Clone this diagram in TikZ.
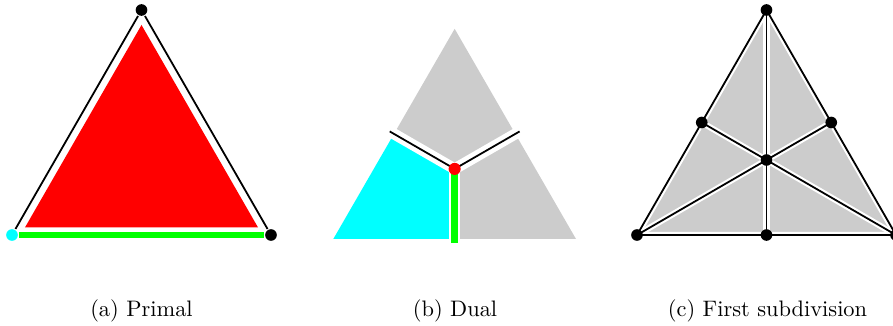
\documentclass[tikz,border=0pt]{standalone}
\usetikzlibrary{calc}
\definecolor{cellgray}{RGB}{204,204,204}
\definecolor{pgreen}{RGB}{0,255,0}
\definecolor{pcyan}{RGB}{0,255,255}
\definecolor{pred}{RGB}{255,0,0}
\begin{document}
\begin{tikzpicture}[x=0.4464pt,y=0.4464pt,
  dot/.style={circle,fill=black,inner sep=0pt,minimum size=5.2pt},
  casing/.style={white,line width=2.7pt},
  widecasing/.style={white,line width=4.9pt},
  edgeline/.style={black,line width=0.8pt},
  greenline/.style={pgreen,line width=2.9pt},
  short/.style={shorten <=3.1pt,shorten >=3.1pt},
  caption/.style={anchor=base,inner sep=0pt}]
\useasboundingbox (0,0) rectangle (893,326);

% ---------- (a) Primal ----------
\coordinate (A) at (12,91);
\coordinate (B) at (271,91);
\coordinate (C) at (141.5,316);
\coordinate (G) at (141.5,166);
\fill[pred] ($(G)!0.9!(A)$) -- ($(G)!0.9!(B)$) -- ($(G)!0.9!(C)$) -- cycle;
\draw[casing,short] (A) -- (C);
\draw[casing,short] (B) -- (C);
\draw[edgeline,short] (A) -- (C);
\draw[edgeline,short] (B) -- (C);
\draw[greenline,short] (A) -- (B);
\node[dot,fill=pcyan] (vA) at (A) {};
\node[dot] (vB) at (B) {};
\node[dot] (vC) at (C) {};
\node[caption] (capa) at (141.5,9) {(a) Primal};

% ---------- (b) Dual ----------
\coordinate (P) at (333.3,87);
\coordinate (Q) at (576,87);
\coordinate (R) at (454.65,297.2);
\coordinate (O) at (454.65,157.1);
\coordinate (mPR) at ($(P)!0.5!(R)$);
\coordinate (mQR) at ($(Q)!0.5!(R)$);
\coordinate (mPQ) at ($(P)!0.5!(Q)$);
\fill[pcyan] (P) -- (mPR) -- (O) -- (mPQ) -- cycle;
\fill[cellgray] (R) -- (mPR) -- (O) -- (mQR) -- cycle;
\fill[cellgray] (Q) -- (mQR) -- (O) -- (mPQ) -- cycle;
\coordinate (eL) at ($(O)!1.07!(mPR)$);
\coordinate (eR) at ($(O)!1.07!(mQR)$);
\coordinate (eB) at ($(O)!1.057!(mPQ)$);
\draw[widecasing] (O) -- (eL);
\draw[widecasing] (O) -- (eR);
\draw[widecasing] (O) -- (eB);
\draw[edgeline] (O) -- (eL);
\draw[edgeline] (O) -- (eR);
\draw[greenline] (O) -- (eB);
\node[dot,fill=pred,minimum size=5.4pt] (vO) at (O) {};
\node[caption] (capb) at (455,9) {(b) Dual};

% ---------- (c) First subdivision ----------
\coordinate (T) at (766.5,316);
\coordinate (L) at (637,91);
\coordinate (RR) at (896,91);
\coordinate (Z) at (766.5,166);
\coordinate (mLT) at ($(L)!0.5!(T)$);
\coordinate (mRT) at ($(RR)!0.5!(T)$);
\coordinate (mB) at ($(L)!0.5!(RR)$);
\fill[cellgray] (L) -- (RR) -- (T) -- cycle;
\foreach \u/\v in {L/mLT,mLT/T,T/mRT,mRT/RR,RR/mB,mB/L,T/Z,Z/mB,L/Z,Z/mRT,RR/Z,Z/mLT}
  \draw[casing] (\u) -- (\v);
\foreach \u/\v in {L/mLT,mLT/T,T/mRT,mRT/RR,RR/mB,mB/L,T/Z,Z/mB,L/Z,Z/mRT,RR/Z,Z/mLT}
  \draw[edgeline] (\u) -- (\v);
\node[dot] (wT) at (T) {};
\node[dot] (wL) at (L) {};
\node[dot] (wR) at (RR) {};
\node[dot] (wZ) at (Z) {};
\node[dot] (wLT) at (mLT) {};
\node[dot] (wRT) at (mRT) {};
\node[dot] (wB) at (mB) {};
\node[caption] (capc) at (767.5,9) {(c) First subdivision};
\end{tikzpicture}
\end{document}
